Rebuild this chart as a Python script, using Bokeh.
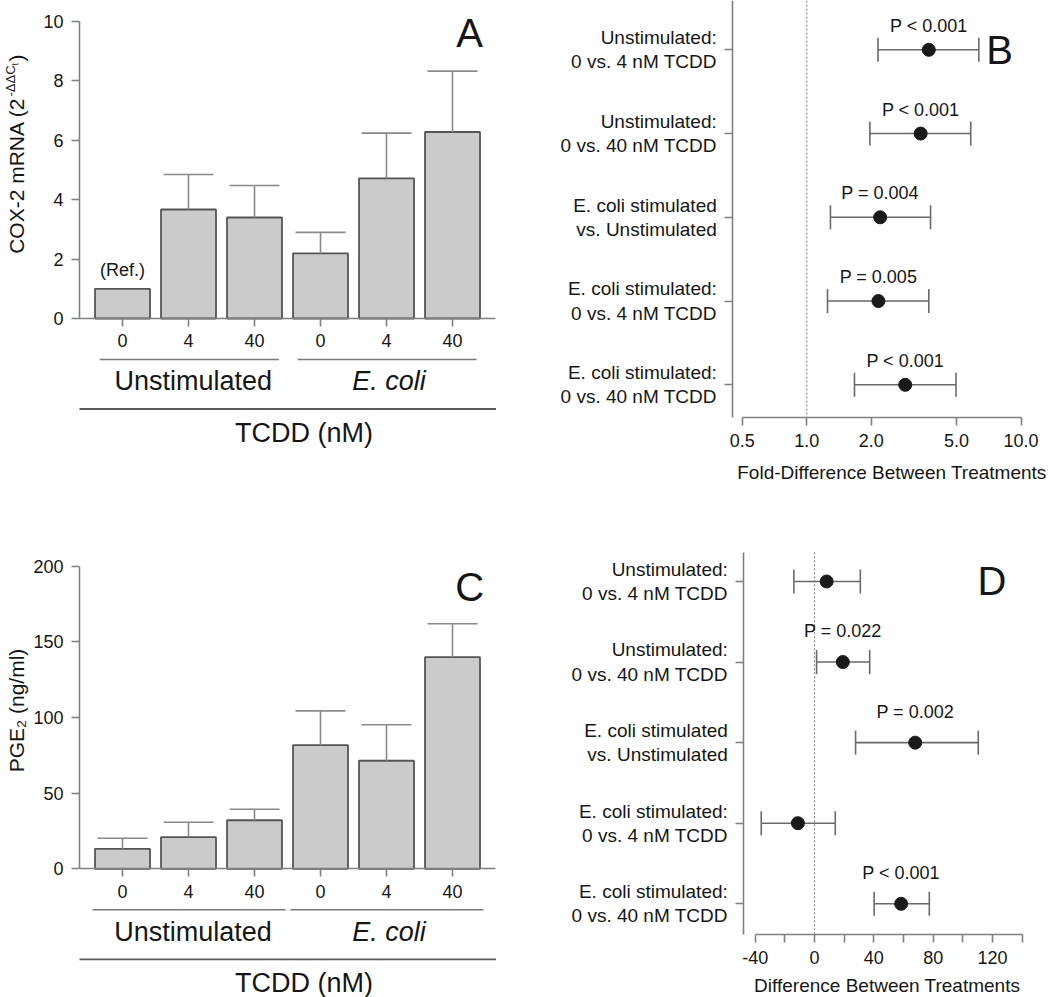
import math
from bokeh.plotting import figure
from bokeh.models import Range1d, LinearAxis, LogAxis, LogScale, FixedTicker
from bokeh.layouts import row, column
from bokeh.embed import file_html
from bokeh.resources import INLINE
from bokeh.core.properties import value

FONT = "Liberation Sans"
INK = "#161616"
AXIS = "#808080"

# ---------------- data ----------------
tcdd_levels = ["0", "4", "40", "0", "4", "40"]
stim_groups = ["Unstimulated", "E. coli"]
cox2_mean = [1.00, 3.67, 3.40, 2.19, 4.72, 6.28]
cox2_upper = [None, 4.85, 4.48, 2.90, 6.24, 8.33]
pge2_mean = [13.2, 20.9, 32.1, 81.7, 71.4, 139.9]
pge2_upper = [20.2, 30.8, 39.4, 104.4, 95.2, 162.0]
cox2_ticks = [0, 2, 4, 6, 8, 10]
pge2_ticks = [0, 50, 100, 150, 200]

comparisons = [
    "Unstimulated:\n0 vs. 4 nM TCDD",
    "Unstimulated:\n0 vs. 40 nM TCDD",
    "E. coli stimulated\nvs. Unstimulated",
    "E. coli stimulated:\n0 vs. 4 nM TCDD",
    "E. coli stimulated:\n0 vs. 40 nM TCDD",
]
fold_est = [3.71, 3.40, 2.20, 2.16, 2.88]
fold_lo = [2.15, 1.97, 1.29, 1.25, 1.67]
fold_hi = [6.35, 5.82, 3.78, 3.71, 4.97]
fold_p = ["P < 0.001", "P < 0.001", "P = 0.004", "P = 0.005", "P < 0.001"]
fold_ticks = [0.5, 1.0, 2.0, 5.0, 10.0]
fold_tick_labels = ["0.5", "1.0", "2.0", "5.0", "10.0"]

diff_est = [8.2, 19.1, 67.9, -11.2, 58.4]
diff_lo = [-13.9, 1.4, 27.7, -35.9, 40.2]
diff_hi = [30.9, 37.2, 110.4, 14.0, 77.4]
diff_p = ["", "P = 0.022", "P = 0.002", "", "P < 0.001"]
diff_ticks = [-40, -20, 0, 20, 40, 60, 80, 100, 120, 140]
diff_tick_labels = ["-40", "", "0", "", "40", "", "80", "", "120", ""]


# ---------------- helpers ----------------
def base_fig(w, h, xr, yr, log=False):
    p = figure(width=w, height=h, x_range=xr, y_range=yr,
               x_axis_type=None, y_axis_type=None,
               toolbar_location=None, output_backend="svg",
               min_border_left=0, min_border_right=0,
               min_border_top=0, min_border_bottom=0)
    if log:
        p.x_scale = LogScale()
    p.outline_line_color = None
    p.title.visible = False
    p.background_fill_color = "white"
    p.border_fill_color = "white"
    try:
        p.frame_align = False
    except Exception:
        pass
    return p


def style_axis(ax, size="18px", standoff=8):
    ax.axis_line_color = AXIS
    ax.axis_line_width = 1.6
    ax.major_tick_line_color = AXIS
    ax.major_tick_line_width = 1.6
    ax.major_tick_in = 0
    ax.major_tick_out = 8
    ax.minor_tick_line_color = None
    ax.major_label_text_font = FONT
    ax.major_label_text_font_size = size
    ax.major_label_text_color = INK
    ax.major_label_standoff = standoff


def add_text(p, xs, ys, texts, size, x_offset=0, y_offset=0, style="normal",
             align="center", baseline="middle", angle=0):
    p.text(x=xs, y=ys, text=texts, x_offset=x_offset, y_offset=y_offset,
           angle=angle, text_font=value(FONT), text_font_size=size,
           text_font_style=style, text_align=align,
           text_baseline=baseline, text_color=INK)


def bar_panel(means, uppers, yticks, yr, w, h, ypx, group_spans, tcdd_off,
              letter, letter_xy):
    xs = list(range(1, len(means) + 1))
    ax0, ax1 = 0.3485, 6.659
    p = base_fig(w, h, Range1d(-0.8485, 6.909), Range1d(*yr))

    yax = LinearAxis(fixed_location=ax0, bounds=(0, yticks[-1]),
                     ticker=FixedTicker(ticks=yticks))
    style_axis(yax, "18px", 8)
    p.add_layout(yax, "left")

    xax = LinearAxis(fixed_location=0, bounds=(ax0, ax1),
                     ticker=FixedTicker(ticks=xs),
                     major_label_overrides={x: s for x, s in zip(xs, tcdd_levels)})
    style_axis(xax, "18px", 8)
    p.add_layout(xax, "below")

    p.vbar(x=xs, top=means, bottom=0, width=0.833, fill_color="#cbcbcb",
           line_color="#555555", line_width=1.8)

    ex = [x for x, u in zip(xs, uppers) if u is not None]
    eb = [m for m, u in zip(means, uppers) if u is not None]
    eu = [u for u in uppers if u is not None]
    p.segment(x0=ex, y0=eb, x1=ex, y1=eu, line_color="#8a8a8a", line_width=1.6)
    p.scatter(x=ex, y=eu, marker="dash", size=50, line_color="#8a8a8a",
              line_width=1.6)

    gy = -41 / ypx
    p.segment(x0=[s[0] for s in group_spans], y0=[gy, gy],
              x1=[s[1] for s in group_spans], y1=[gy, gy],
              line_color="#7a7a7a", line_width=1.6)
    mids = [(s[0] + s[1]) / 2 for s in group_spans]
    add_text(p, [mids[0] + 0.06], [0], [stim_groups[0]], "27px", y_offset=63)
    add_text(p, [mids[1] + 0.03], [0], [stim_groups[1]], "27px", y_offset=63,
             style="italic")

    ly = -90.5 / ypx
    p.segment(x0=[ax0], y0=[ly], x1=[ax1], y1=[ly],
              line_color="#5a5a5a", line_width=1.8)
    add_text(p, [3.75], [0], ["TCDD (nM)"], "27px", y_offset=tcdd_off)

    add_text(p, [letter_xy[0]], [letter_xy[1]], [letter], "40px")
    return p


def forest_panel(w, h, xr, yr, log, yaxis_x, ybounds, xaxis_y, xbounds,
                 ticks, tick_labels, est, lo, hi, pvals, p_off, ref_x,
                 title, title_xy, letter, letter_x):
    p = base_fig(w, h, xr, yr, log)
    xax = LogAxis() if log else LinearAxis()
    xax.fixed_location = xaxis_y
    xax.bounds = xbounds
    xax.ticker = FixedTicker(ticks=ticks)
    xax.major_label_overrides = dict(zip(ticks, tick_labels))
    style_axis(xax, "18px", 9)
    p.add_layout(xax, "below")

    rows = list(range(1, len(est) + 1))
    yax = LinearAxis(fixed_location=yaxis_x, bounds=ybounds,
                     ticker=FixedTicker(ticks=rows),
                     major_label_overrides=dict(zip(rows, comparisons)))
    style_axis(yax, "19px", 8)
    yax.major_label_text_line_height = 1.15
    p.add_layout(yax, "left")

    p.segment(x0=[ref_x], y0=[ybounds[0]], x1=[ref_x], y1=[ybounds[1]],
              line_color="#8a8a8a", line_dash="2 2", line_width=1.2)

    p.segment(x0=lo, y0=rows, x1=hi, y1=rows, line_color="#6a6a6a", line_width=1.6)
    p.scatter(x=lo + hi, y=rows + rows, marker="dash", angle=math.pi / 2,
              size=24, line_color="#6a6a6a", line_width=1.6)
    p.scatter(x=est, y=rows, marker="circle", size=13, fill_color="#1a1a1a",
              line_color="#1a1a1a")

    keep = [i for i, s in enumerate(pvals) if s]
    add_text(p, [est[i] for i in keep], [rows[i] for i in keep],
             [pvals[i] for i in keep], "18px", y_offset=p_off)
    add_text(p, [letter_x], [1], [letter], "40px")
    add_text(p, [title_xy[0]], [title_xy[1]], [title], "19px")
    return p


# ---------------- panel A ----------------
A_PX = 29.7
pA = bar_panel(cox2_mean, cox2_upper, cox2_ticks, (-6.027, 10.707), 512, 497,
               A_PX, [(0.656, 3.368), (3.652, 6.364)], 115, "A", (6.26, 9.6))
add_text(pA, [1], [cox2_mean[0]], ["(Ref.)"], "18px", y_offset=-19)
lab_x = -0.606
add_text(pA, [lab_x], [221 / A_PX], ["COX-2 mRNA (2"], "21px",
         align="right", angle=math.pi / 2)
add_text(pA, [lab_x], [222 / A_PX], ["-ΔΔC"], "13px", x_offset=-6,
         align="left", angle=math.pi / 2)
add_text(pA, [lab_x], [253 / A_PX], ["t"], "9px", x_offset=-2,
         align="left", angle=math.pi / 2)
add_text(pA, [lab_x], [257 / A_PX], [")"], "21px",
         align="left", angle=math.pi / 2)

# ---------------- panel C ----------------
C_PX = 1.513
pC = bar_panel(pge2_mean, pge2_upper, pge2_ticks, (-85.06, 245.4), 512, 500,
               C_PX, [(0.545, 3.470), (3.545, 6.470)], 114, "C", (6.26, 186))
add_text(pC, [lab_x], [104.6], ["PGE₂ (ng/ml)"], "21px", angle=math.pi / 2)

# ---------------- panel B ----------------
pB = forest_panel(538, 497, Range1d(0.04242, 13.71), Range1d(6.3457, 0.4113), True,
                  0.4520, (0.4113, 5.387), 5.387, (0.5, 10.0),
                  fold_ticks, fold_tick_labels, fold_est, fold_lo, fold_hi,
                  fold_p, -24, 1.0, "Fold-Difference Between Treatments",
                  (2.498, 6.0436), "B", 7.93)

# ---------------- panel D ----------------
pD = forest_panel(538, 500, Range1d(-203.6, 159.1), Range1d(6.163, -0.0424), False,
                  -47.66, (0.6364, 5.381), 5.381, (-40, 140),
                  diff_ticks, diff_tick_labels, diff_est, diff_lo, diff_hi,
                  diff_p, -31, 0.0, "Difference Between Treatments",
                  (49.0, 6.020), "D", 119.7)

layout = column(row(pA, pB), row(pC, pD))
open("out.html", "w").write(file_html(layout, INLINE))
